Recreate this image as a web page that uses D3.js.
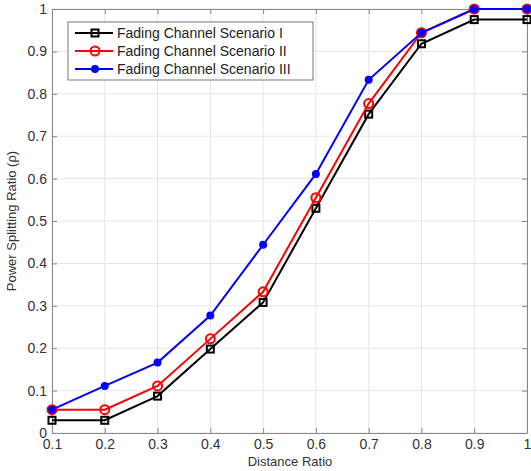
<!DOCTYPE html>
<html><head><meta charset="utf-8">
<script src="https://cdn.jsdelivr.net/npm/d3@7"></script>
<style>body{margin:0;background:#fff}svg{display:block}</style>
</head><body>
<script>
const distance = [0.1,0.2,0.3,0.4,0.5,0.6,0.7,0.8,0.9,1.0];
const scenarioI = [0.03,0.03,0.087,0.198,0.308,0.53,0.752,0.918,0.975,0.975];
const scenarioII = [0.055,0.055,0.111,0.222,0.333,0.555,0.777,0.944,1.0,1.0];
const scenarioIII = [0.055,0.111,0.166,0.277,0.444,0.611,0.833,0.944,1.0,1.0];
const seriesNames = ["Fading Channel Scenario I","Fading Channel Scenario II","Fading Channel Scenario III"];
const xTicks = [0.1,0.2,0.3,0.4,0.5,0.6,0.7,0.8,0.9,1];
const yTicks = [0,0.1,0.2,0.3,0.4,0.5,0.6,0.7,0.8,0.9,1];

const W=531,H=471;
const L=52,R=527,T=9,B=433;
const svg=d3.select("body").append("svg").attr("width",W).attr("height",H);
const x=d3.scaleLinear().domain([0.1,1]).range([L,R]);
const y=d3.scaleLinear().domain([0,1]).range([B,T]);
const fmt=d=>d===0?"0":d===1?"1":d3.format(".1f")(d);

// grid
const g=svg.append("g");
g.selectAll(".gx").data(xTicks).enter().append("line").attr("x1",d=>x(d)).attr("x2",d=>x(d)).attr("y1",T).attr("y2",B).attr("stroke","#e6e6e6").attr("stroke-width",1);
g.selectAll(".gy").data(yTicks).enter().append("line").attr("y1",d=>y(d)).attr("y2",d=>y(d)).attr("x1",L).attr("x2",R).attr("stroke","#e6e6e6").attr("stroke-width",1);

// axes
const font="Liberation Sans, Arial, sans-serif";
const xa=svg.append("g").attr("transform",`translate(0,${B})`).call(d3.axisBottom(x).tickValues(xTicks).tickFormat(fmt).tickSizeInner(-5).tickSizeOuter(0).tickPadding(3));
const ya=svg.append("g").attr("transform",`translate(${L},0)`).call(d3.axisLeft(y).tickValues(yTicks).tickFormat(fmt).tickSizeInner(-5).tickSizeOuter(0).tickPadding(5));
const xa2=svg.append("g").attr("transform",`translate(0,${T})`).call(d3.axisTop(x).tickValues(xTicks).tickFormat("").tickSizeInner(-5).tickSizeOuter(0));
const ya2=svg.append("g").attr("transform",`translate(${R},0)`).call(d3.axisRight(y).tickValues(yTicks).tickFormat("").tickSizeInner(-5).tickSizeOuter(0));
[xa,ya,xa2,ya2].forEach(a=>{a.selectAll("path").attr("stroke","#888");a.selectAll("line").attr("stroke","#888");a.selectAll("text").attr("fill","#333").style("font-family",font).style("font-size","14px");});
xa.selectAll("text").attr("dy","0.9em");

svg.append("text").attr("x",290).attr("y",466).attr("text-anchor","middle").style("font-family",font).style("font-size","13px").attr("fill","#333").text("Distance Ratio");
svg.append("text").attr("transform",`translate(16,${(T+B)/2}) rotate(-90)`).attr("text-anchor","middle").style("font-family",font).style("font-size","13px").attr("fill","#333").text("Power Splitting Ratio (\u03c1)");

const series=[
 {name:seriesNames[0],vals:scenarioI,color:"#000",marker:"square"},
 {name:seriesNames[1],vals:scenarioII,color:"#ff0000",marker:"circle"},
 {name:seriesNames[2],vals:scenarioIII,color:"#0000ff",marker:"dot"}
];
const line=d3.line().x((d,i)=>x(distance[i])).y(d=>y(d));
function drawMarker(sel,m,color,cx,cy){
  if(m==="square") sel.append("rect").attr("x",cx-3.5).attr("y",cy-3.5).attr("width",7).attr("height",7).attr("fill","none").attr("stroke",color).attr("stroke-width",2);
  else if(m==="circle") sel.append("circle").attr("cx",cx).attr("cy",cy).attr("r",4.5).attr("fill","none").attr("stroke",color).attr("stroke-width",2);
  else sel.append("circle").attr("cx",cx).attr("cy",cy).attr("r",4).attr("fill",color);
}
series.forEach(s=>{
  const gs=svg.append("g");
  gs.append("path").datum(s.vals).attr("d",line).attr("fill","none").attr("stroke",s.color).attr("stroke-width",2);
  s.vals.forEach((v,i)=>drawMarker(gs,s.marker,s.color,x(distance[i]),y(v)));
});

// legend
const lg=svg.append("g");
lg.append("rect").attr("x",68).attr("y",22).attr("width",245).attr("height",58).attr("fill","#fff").attr("stroke","#777").attr("stroke-width",1);
series.forEach((s,i)=>{
  const ly=33+i*18;
  lg.append("line").attr("x1",75).attr("x2",113).attr("y1",ly).attr("y2",ly).attr("stroke",s.color).attr("stroke-width",2);
  drawMarker(lg,s.marker,s.color,95,ly);
  lg.append("text").attr("x",117).attr("y",ly+5).style("font-family",font).style("font-size","14px").attr("fill","#222").text(s.name);
});
</script>
</body></html>
